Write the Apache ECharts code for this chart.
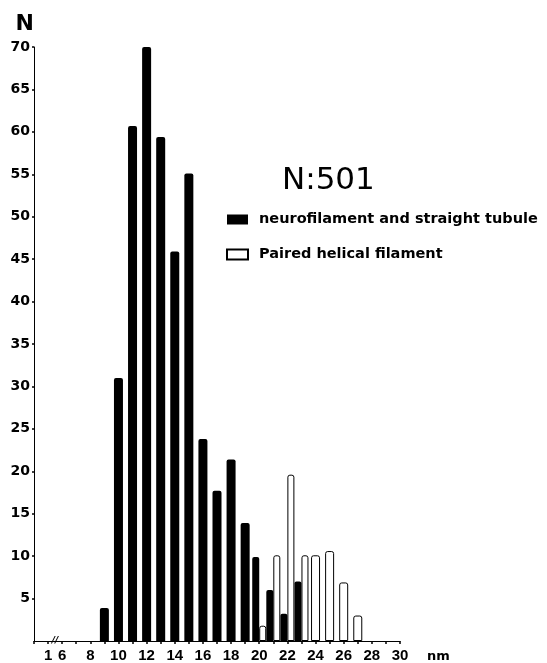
<!DOCTYPE html>
<html>
<head>
<meta charset="utf-8">
<script src="https://cdn.jsdelivr.net/npm/echarts@6/dist/echarts.min.js"></script>
<style>
html,body{margin:0;padding:0;background:#fff;}
#chart{width:547px;height:663px;}
</style>
</head>
<body>
<div id="chart"></div>
<script>
// ---- data ----
const categories = ["", "1", "6", "7", "8", "9", "10", "11", "12", "13", "14", "15", "16", "17", "18", "19", "20", "21", "22", "23", "24", "25", "26", "27", "28", "29", "30"];
const tickLabels = ["1", "6", "8", "10", "12", "14", "16", "18", "20", "22", "24", "26", "28", "30"];
const blackNm = [9, 10, 11, 12, 13, 14, 15, 16, 17, 18, 19, 20, 21, 22, 23];
const blackCount = [3.9, 31, 60.7, 70, 59.4, 45.9, 55.1, 23.8, 17.7, 21.4, 13.9, 9.9, 6.0, 3.2, 7.0];
const whiteNm = [20, 21, 22, 23, 24, 25, 26, 27];
const whiteCount = [1.8, 10.1, 19.6, 10.1, 10.1, 10.6, 6.9, 3.0];
const yTicks = { min: 0, max: 70, interval: 5 };
const BLACK = "neurofilament and straight tubule";
const WHITE = "Paired helical filament";
const TITLE = "N:501";

// ---- build series data from the arrays ----
const blackSolo = [], whiteSolo = [], blackPair = [], whitePair = [];
categories.forEach(c => {
  const n = Number(c);
  const bi = c === "" ? -1 : blackNm.indexOf(n);
  const wi = c === "" ? -1 : whiteNm.indexOf(n);
  const b = bi >= 0 ? blackCount[bi] : '-';
  const w = wi >= 0 ? whiteCount[wi] : '-';
  if (bi >= 0 && wi >= 0) {
    blackPair.push(b); whitePair.push(w); blackSolo.push('-'); whiteSolo.push('-');
  } else {
    blackSolo.push(b); whiteSolo.push(w); blackPair.push('-'); whitePair.push('-');
  }
});

const blackStyle = { color: '#000', borderRadius: [2, 2, 0, 0] };
const whiteStyle = { color: '#fff', borderColor: '#000', borderWidth: 1, borderRadius: [2, 2, 0, 0] };
const boldFont = "'DejaVu Sans', sans-serif";
const narrowFont = "'Liberation Sans Narrow', 'Liberation Sans', Arial, sans-serif";

const chart = echarts.init(document.getElementById('chart'), null, { renderer: 'canvas' });
chart.setOption({
  animation: false,
  backgroundColor: '#fff',
  title: {
    text: TITLE,
    left: 282, top: 165, padding: 0,
    textStyle: { fontFamily: boldFont, fontWeight: 'normal', fontSize: 31, color: '#000' }
  },
  legend: {
    orient: 'vertical',
    left: 226, top: 212,
    padding: 0,
    itemWidth: 21, itemHeight: 10, itemGap: 20,
    icon: 'rect',
    data: [BLACK, WHITE],
    textStyle: { fontFamily: boldFont, fontWeight: 'bold', fontSize: 14.5, color: '#000', padding: [0, 0, 0, 6] }
  },
  grid: { left: 34, top: 47, right: 147, bottom: 22 },
  xAxis: [{
    type: 'category',
    data: categories,
    boundaryGap: false,
    name: 'nm',
    nameLocation: 'end',
    nameGap: 27,
    nameTextStyle: { fontFamily: boldFont, fontWeight: 'bold', fontSize: 13, color: '#000', verticalAlign: 'top', align: 'left', padding: [9, 0, 0, 0] },
    axisLine: { show: true, lineStyle: { color: '#000', width: 1 } },
    axisTick: { show: true, interval: 0, length: 3, lineStyle: { color: '#000', width: 1.5 } },
    axisLabel: {
      interval: (i, v) => tickLabels.indexOf(v) >= 0,
      fontFamily: narrowFont, fontWeight: 'bold', fontSize: 15, color: '#000', margin: 7
    },
    splitLine: { show: false }
  }, {
    type: 'category',
    data: categories,
    boundaryGap: false,
    show: false
  }],
  yAxis: {
    type: 'value',
    min: yTicks.min, max: yTicks.max, interval: yTicks.interval,
    name: 'N',
    nameLocation: 'end',
    nameGap: 12,
    nameTextStyle: { fontFamily: boldFont, fontWeight: 'bold', fontSize: 22, color: '#000', align: 'right', padding: [0, 0, 0, 0] },
    axisLine: { show: true, lineStyle: { color: '#000', width: 1 } },
    axisTick: { show: true, length: 2, lineStyle: { color: '#000', width: 1.5 } },
    axisLabel: { showMinLabel: false, fontFamily: boldFont, fontWeight: 'bold', fontSize: 14, color: '#000', margin: 4 },
    splitLine: { show: false }
  },
  series: [
    { name: BLACK, type: 'bar', xAxisIndex: 0, stack: 'solo', barWidth: 9, data: blackSolo, itemStyle: blackStyle },
    { name: WHITE, type: 'bar', xAxisIndex: 0, stack: 'solo', barWidth: 9, data: whiteSolo, itemStyle: whiteStyle },
    { name: BLACK, type: 'bar', xAxisIndex: 1, barWidth: 7, barGap: '0%', data: blackPair, itemStyle: blackStyle },
    { name: WHITE, type: 'bar', xAxisIndex: 1, barWidth: 7, barGap: '0%', data: whitePair, itemStyle: whiteStyle }
  ],
  graphic: [{
    type: 'text',
    x: 55, y: 641,
    style: { text: '//', x: 0, y: 0, align: 'center', verticalAlign: 'middle', fill: '#000', font: 'italic bold 9px DejaVu Sans' }
  }]
});
</script>
</body>
</html>
